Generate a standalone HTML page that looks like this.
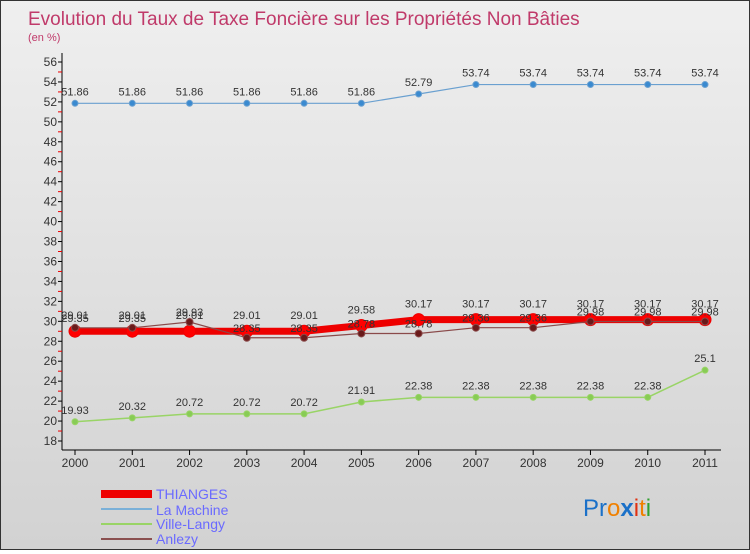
<!DOCTYPE html>
<html><head><meta charset="utf-8"><style>
body{margin:0;width:750px;height:550px;overflow:hidden;font-family:"Liberation Sans",sans-serif}
#wrap{position:relative;width:748px;height:548px;border:1px solid #333;background:linear-gradient(#efefef,#d2d2d2)}
</style></head><body>
<div id="wrap">
<svg id="chart" width="748" height="548">
<text x="27" y="24" font-size="19" fill="#c03a6a">Evolution du Taux de Taxe Foncière sur les Propriétés Non Bâties</text>
<text x="27" y="40" font-size="11" fill="#c03a6a">(en %)</text>
<g id="axes"></g><g id="series"></g>
<g>
<rect x="100" y="489" width="51" height="8" fill="#e00"/>
<text x="155" y="498" font-size="14" fill="#6a6aff">THIANGES</text>
<rect x="100" y="507" width="51" height="2" fill="#7ab0d8"/>
<text x="155" y="514" font-size="14" fill="#6a6aff">La Machine</text>
<rect x="100" y="522" width="51" height="2" fill="#99d466"/>
<text x="155" y="528" font-size="14" fill="#6a6aff">Ville-Langy</text>
<rect x="100" y="537" width="51" height="2" fill="#8a5050"/>
<text x="155" y="543" font-size="14" fill="#6a6aff">Anlezy</text>
</g>
<text x="582" y="515" font-size="24"><tspan fill="#1a70c8">Pr</tspan><tspan fill="#f08000">o</tspan><tspan fill="#1a70c8" font-weight="bold">x</tspan><tspan fill="#e03010">i</tspan><tspan fill="#f08000">t</tspan><tspan fill="#30a030">i</tspan></text>
</svg></div>
<script>
const years=[2000,2001,2002,2003,2004,2005,2006,2007,2008,2009,2010,2011];
const yTicks=[18,20,22,24,26,28,30,32,34,36,38,40,42,44,46,48,50,52,54,56];
const thianges=[29.01,29.01,29.01,29.01,29.01,29.58,30.17,30.17,30.17,30.17,30.17,30.17];
const laMachine=[51.86,51.86,51.86,51.86,51.86,51.86,52.79,53.74,53.74,53.74,53.74,53.74];
const villeLangy=[19.93,20.32,20.72,20.72,20.72,21.91,22.38,22.38,22.38,22.38,22.38,25.1];
const anlezy=[29.35,29.35,29.93,28.35,28.35,28.78,28.78,29.36,29.36,29.98,29.98,29.98];
const NS='http://www.w3.org/2000/svg';
const x=i=>74+i*(630/11);
const y=v=>440-(v-18)*(379/38);
function mk(p,t,a){const e=document.createElementNS(NS,t);for(const k in a)e.setAttribute(k,a[k]);p.appendChild(e);return e;}
const ax=document.getElementById('axes');
const yl=mk(ax,'line',{x1:61,y1:52,x2:61,y2:449,stroke:'#000'});


const xl=mk(ax,'line',{x1:61,y1:449,x2:720,y2:449,stroke:'#000'});


yTicks.forEach(v=>{
 mk(ax,'line',{x1:57,x2:61,y1:y(v),y2:y(v),stroke:'#000'});
 if(v<56) mk(ax,'line',{x1:57,x2:61,y1:y(v+1),y2:y(v+1),stroke:'#e00'});
 const t=mk(ax,'text',{x:56,y:y(v)+4,'font-size':12,'text-anchor':'end',fill:'#333'});
 t.textContent=v;
 
 
});
years.forEach((yr,i)=>{
 mk(ax,'line',{x1:x(i),x2:x(i),y1:449,y2:454,stroke:'#000'});
 const t=mk(ax,'text',{x:x(i),y:466,'font-size':12,'text-anchor':'middle',fill:'#333'});
 t.textContent=yr;
 
 
});
const sg=document.getElementById('series');
function series(data,name,color,w,r,pc,labelDy){
 const g=mk(sg,'g',{});
 
 
 mk(g,'polyline',{points:data.map((v,i)=>x(i)+','+y(v)).join(' '),fill:'none',stroke:color,'stroke-width':w});
 data.forEach((v,i)=>{
  const c=mk(g,'circle',{cx:x(i),cy:y(v),r:r,fill:pc,stroke:color,'stroke-width':1});
  
  
  const t=mk(g,'text',{x:x(i),y:y(v)+labelDy,'font-size':11,'text-anchor':'middle',fill:'#333'});
  t.textContent=v;
  
  
 });
}
series(laMachine,'la-machine','#6aa0d0',1.2,3,'#3a8ad0',-8);
series(villeLangy,'ville-langy','#99d466',1.5,3,'#88cc55',-8);
series(thianges,'thianges','#e00',7,6,'#f00',-12);
series(anlezy,'anlezy','#8a4a4a',1.2,3.5,'#6a1a1a',-6);
</script>
</body></html>
